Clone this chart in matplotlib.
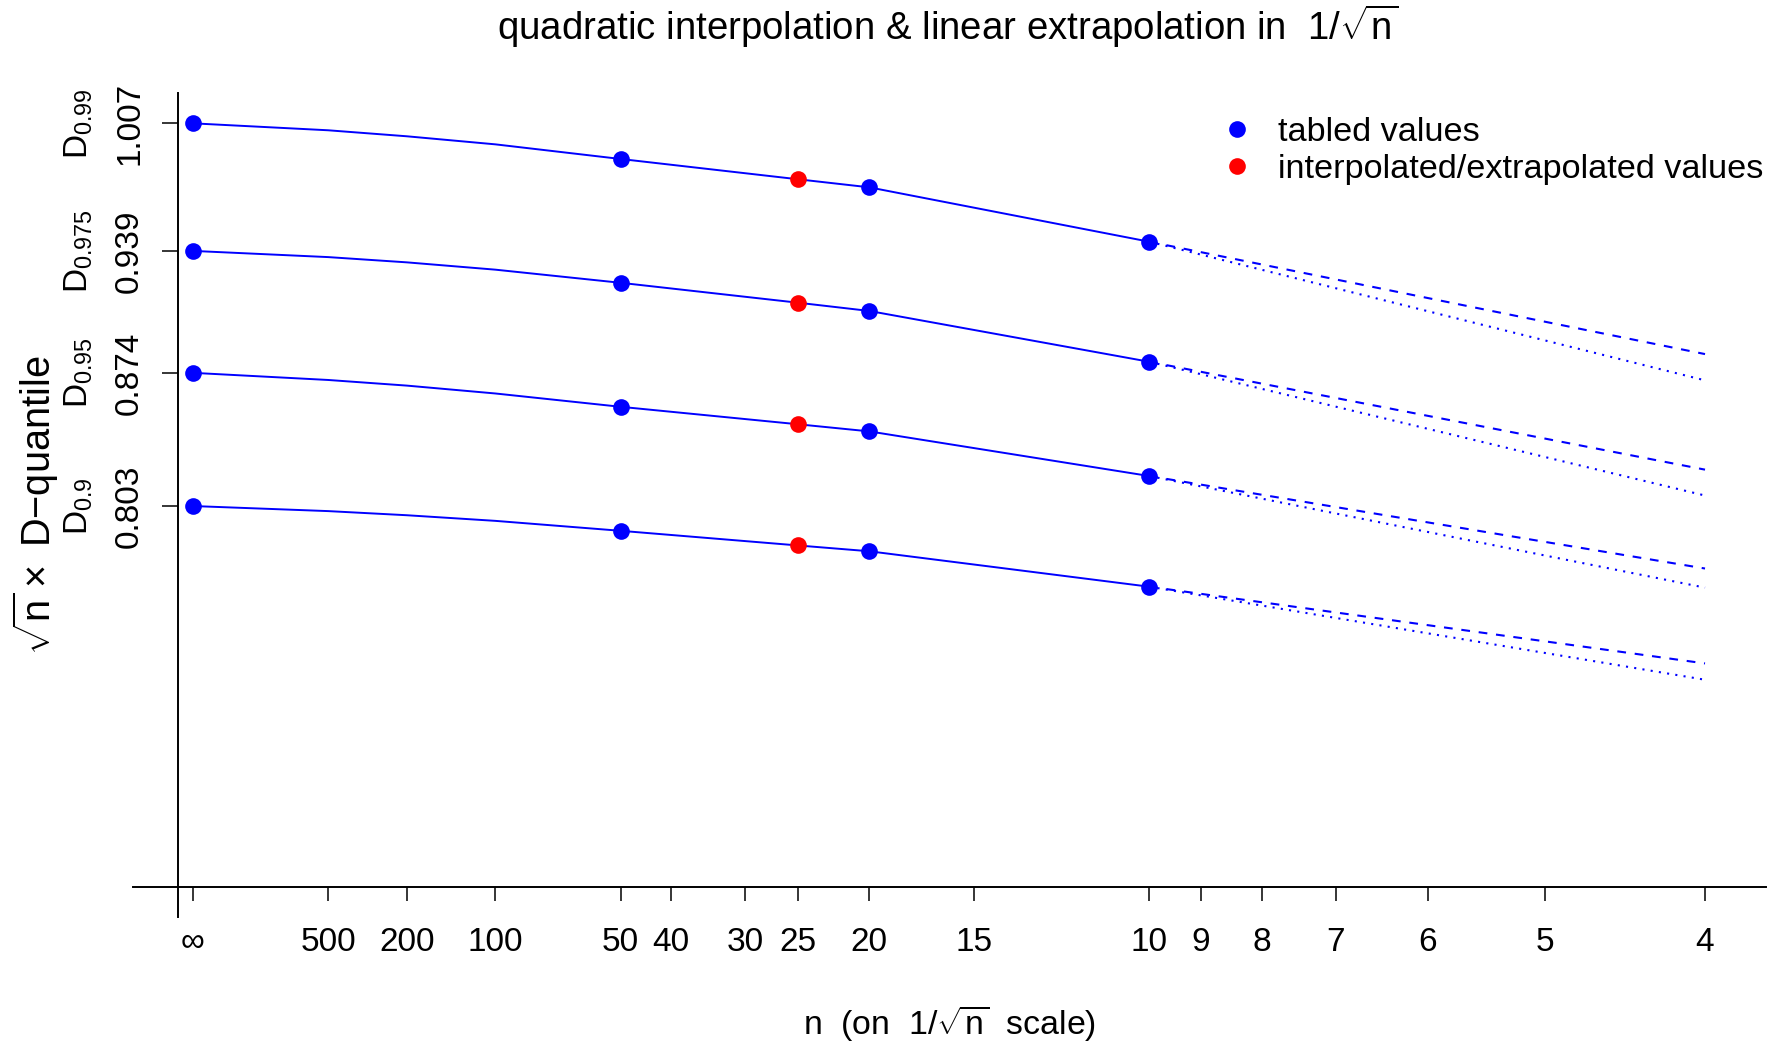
import numpy as np
import matplotlib
matplotlib.use("Agg")
import matplotlib.pyplot as plt

plt.rcParams['font.family'] = 'Liberation Sans'
plt.rcParams['mathtext.fontset'] = 'custom'
plt.rcParams['mathtext.rm'] = 'Liberation Sans'
plt.rcParams['mathtext.it'] = 'Liberation Sans'
plt.rcParams['mathtext.bf'] = 'Liberation Sans:bold'

# D-quantile niveaus (nederst til øverst)
niveaus = ['0.9', '0.95', '0.975', '0.99']
y_uendelig = [0.803, 0.874, 0.939, 1.007]

# tabellverdier ved n = inf, 50, 20, 10
n_tabell = [np.inf, 50, 20, 10]
tab_090 = [0.803, 0.7898, 0.7789, 0.7600]
tab_095 = [0.874, 0.8559, 0.8428, 0.8190]
tab_0975 = [0.939, 0.9220, 0.9070, 0.8799]
tab_099 = [1.007, 0.9880, 0.9729, 0.9439]

# interpolert verdi ved n = 25
n_interp = 25
interp_verdier = [0.7820, 0.8466, 0.9114, 0.9772]

# kurvene
n_kurve = [np.inf, 500, 200, 100, 50, 25, 20, 10]
kurve_090 = [0.803, 0.8003, 0.7981, 0.7951, 0.7898, 0.7820, 0.7789, 0.7600]
kurve_095 = [0.874, 0.8702, 0.8672, 0.8630, 0.8559, 0.8466, 0.8428, 0.8190]
kurve_0975 = [0.939, 0.9357, 0.9329, 0.9290, 0.9220, 0.9114, 0.9070, 0.8799]
kurve_099 = [1.007, 1.0033, 1.0001, 0.9958, 0.9880, 0.9772, 0.9729, 0.9439]

# ekstrapolering fra n = 10 til n = 4
n_ekstra = [10, 4]
strek_slutt = [0.7191, 0.7697, 0.8224, 0.8840]
prikk_slutt = [0.7104, 0.7595, 0.8086, 0.8700]

# x-akse
n_ticks = [np.inf, 500, 200, 100, 50, 40, 30, 25, 20, 15, 10, 9, 8, 7, 6, 5, 4]
tick_tekst = ['\u221e', '500', '200', '100', '50', '40', '30', '25', '20', '15',
              '10', '9', '8', '7', '6', '5', '4']


def u(n):
    return 1 / np.sqrt(np.array(n, dtype=float))


tabeller = [tab_090, tab_095, tab_0975, tab_099]
kurver = [kurve_090, kurve_095, kurve_0975, kurve_099]

fig = plt.figure(figsize=(17.81, 10.44), dpi=100)
ax = fig.add_axes([0.0744, 0.12126, 0.9169, 0.78985])

blaa = '#0000ff'
for i in range(4):
    ax.plot(u(n_kurve), kurver[i], '-', color=blaa, lw=1.4)
    y10 = tabeller[i][3]
    ax.plot(u(n_ekstra), [y10, strek_slutt[i]], color=blaa, lw=1.5,
            linestyle=(0, (4.2, 4.2)))
    ax.plot(u(n_ekstra), [y10, prikk_slutt[i]], color=blaa, lw=1.5,
            linestyle=(0, (1, 3)))
    l1, = ax.plot(u(n_tabell), tabeller[i], 'o', color=blaa, ms=12, mec='none')
    l2, = ax.plot(u(n_interp), interp_verdier[i], 'o', color='#ff0000', ms=12, mec='none')

ax.set_xlim(-0.02, 0.52)
ax.set_ylim(0.6 - 0.04 * 0.407, 1.007 + 0.04 * 0.407)

ax.spines['top'].set_visible(False)
ax.spines['right'].set_visible(False)
ax.spines['left'].set_position(('data', -0.005))
ax.spines['bottom'].set_position(('data', 0.6))
ax.spines['left'].set_linewidth(1.4)
ax.spines['bottom'].set_linewidth(1.4)

ax.set_xticks(u(n_ticks), tick_tekst, va='baseline', fontsize=24)
ax.tick_params(axis='x', direction='out', length=10, width=1.1, pad=36)
ax.set_yticks(y_uendelig)
ax.tick_params(axis='y', direction='out', length=11.5, width=1.1, labelleft=False)

yt = ax.get_yaxis_transform()
for i in range(4):
    ax.text(0.0034, y_uendelig[i], '%.3f' % y_uendelig[i], transform=yt, rotation=90,
            rotation_mode='anchor', ha='center', va='baseline', fontsize=24, clip_on=False)
    ax.text(-0.0272, y_uendelig[i], r'$\mathrm{D}_{%s}$' % niveaus[i], transform=yt,
            rotation=90, rotation_mode='anchor', ha='center', va='baseline',
            fontsize=24, clip_on=False)

fig.text(948 / 1781, 1 - 40 / 1044,
         'quadratic interpolation & linear extrapolation in  $1/\\sqrt{n}$',
         ha='center', va='baseline', fontsize=27.6)
fig.text(949.5 / 1781, 1 - 1035 / 1044, 'n  (on  $1/\\sqrt{n}$  scale)',
         ha='center', va='baseline', fontsize=24.4)
fig.text(51 / 1781, 1 - 505 / 1044, '$\\sqrt{n}\\times$ D\u2212quantile', rotation=90,
         rotation_mode='anchor', ha='center', va='baseline', fontsize=28.6)

ax.legend([l1, l2], ['tabled values', 'interpolated/extrapolated values'],
          loc='upper left', bbox_to_anchor=(0.666, 0.9705), frameon=False,
          fontsize=24.7, handlelength=1.0, handletextpad=0.7, labelspacing=0.18,
          borderpad=0, borderaxespad=0)

fig.savefig('out.png', dpi=100)
